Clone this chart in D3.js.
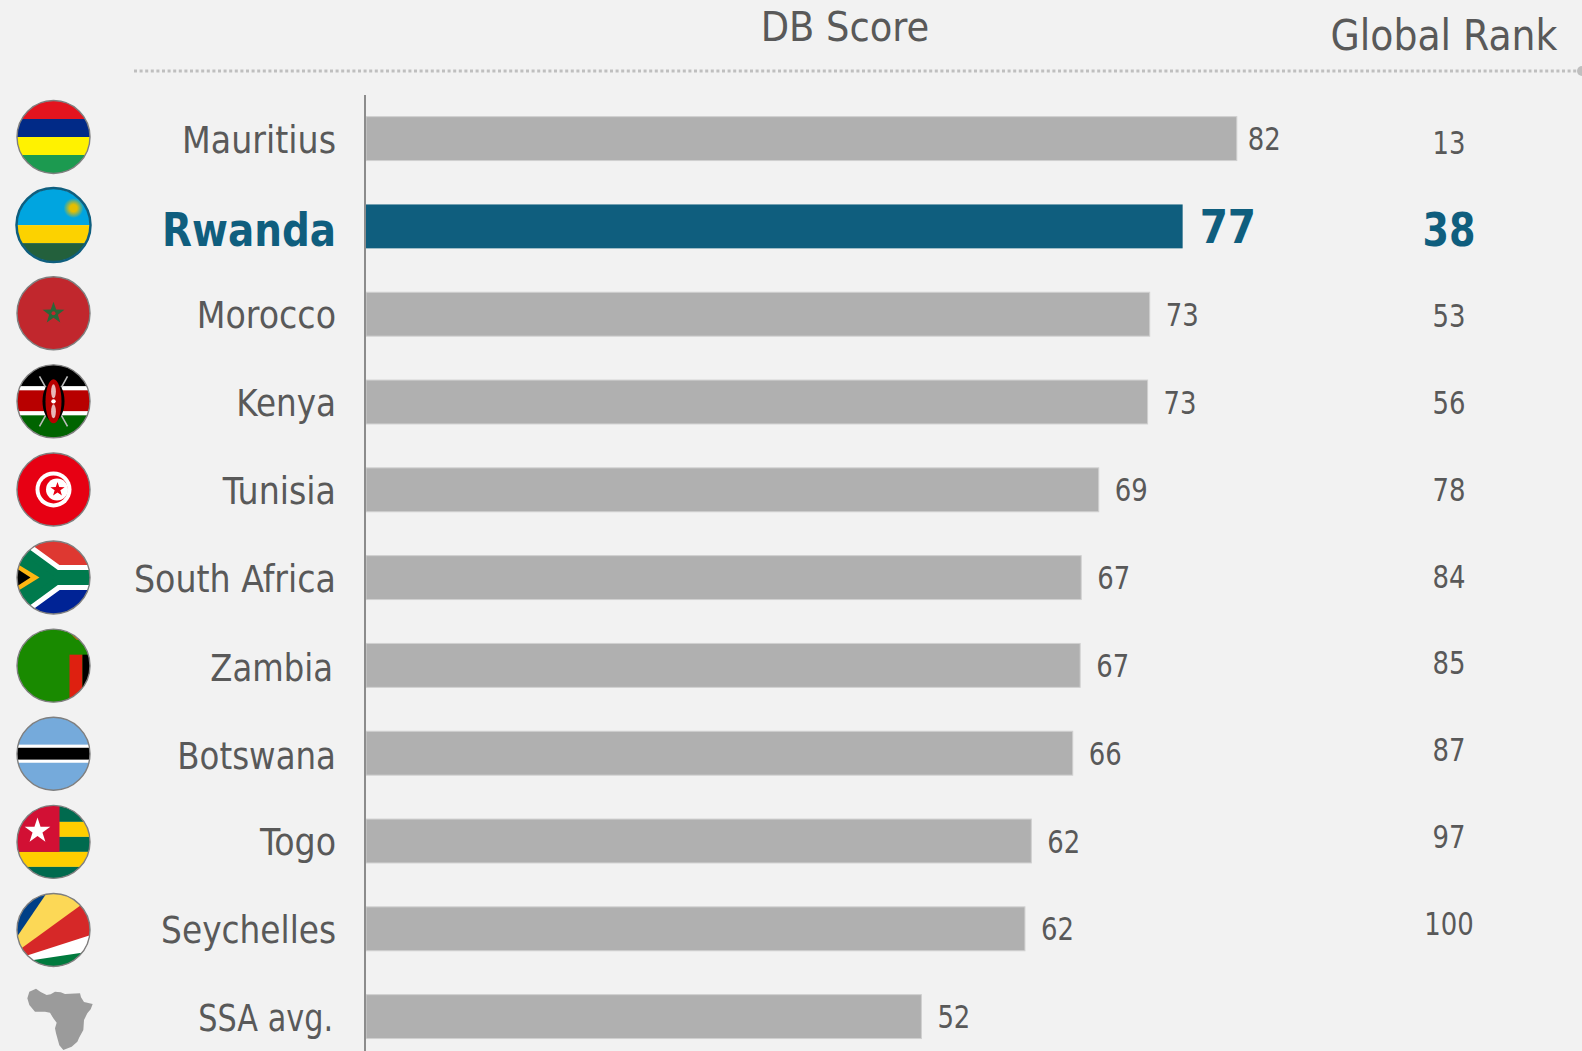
<!DOCTYPE html>
<html>
<head>
<meta charset="utf-8">
<script src="https://cdn.jsdelivr.net/npm/d3@7"></script>
<style>
    html, body { margin: 0; padding: 0; background: #f2f2f2; overflow: hidden; }
    text { font-family: "DejaVu Sans Condensed", "DejaVu Sans", sans-serif; fill: #595959; }
    .highlight { fill: #0f5e7e; font-weight: bold; }
</style>
</head>
<body>
<div id="chart"></div>
<script>
// Data
var countries = ["Mauritius", "Rwanda", "Morocco", "Kenya", "Tunisia", "South Africa", "Zambia", "Botswana", "Togo", "Seychelles", "SSA avg."];
var barValues = [82.0, 76.9, 73.8, 73.6, 69.0, 67.35, 67.25, 66.55, 62.65, 62.05, 52.3];
var scoreLabels = ["82", "77", "73", "73", "69", "67", "67", "66", "62", "62", "52"];
var globalRanks = ["13", "38", "53", "56", "78", "84", "85", "87", "97", "100"];
var headers = ["DB Score", "Global Rank"];
var highlighted = "Rwanda";

var width = 1582, height = 1051;

var svg = d3.select("#chart").append("svg")
    .attr("width", width)
    .attr("height", height)
    .style("display", "block");

var defs = svg.append("defs");

// Scales
var x = d3.scaleLinear().domain([0, 82]).range([366, 1236.8]);
var y = d3.scaleBand().domain(countries).range([94.7, 1060.5]).paddingInner(0.5).paddingOuter(0.25);
// the rank column and the flags drift a little from the bars in the original
var yRank = d3.scalePoint().domain(globalRanks).range([142.5, 923]);
var yFlag = d3.scalePoint().domain(countries.slice(0, 10)).range([137, 930]);

// squeeze a label sideways, the original font is narrower than DejaVu
function condense(sel, k) {
    sel.each(function() {
        d3.select(this)
            .attr("textLength", this.getComputedTextLength() * k)
            .attr("lengthAdjust", "spacingAndGlyphs");
    });
}

// Header
svg.append("text").attr("x", 845).attr("y", 41).attr("text-anchor", "middle")
    .style("font-size", "41px").text(headers[0]);
svg.append("text").attr("x", 1444).attr("y", 50).attr("text-anchor", "middle")
    .style("font-size", "42px").text(headers[1]);

svg.append("line")
    .attr("x1", 134).attr("x2", 1578).attr("y1", 71).attr("y2", 71)
    .attr("stroke", "#bfbfbf").attr("stroke-width", 3).attr("stroke-dasharray", "3,2.6");
svg.append("circle").attr("cx", 1582).attr("cy", 71).attr("r", 5).attr("fill", "#bfbfbf");

// Bars
svg.selectAll(".bar")
    .data(countries)
    .enter().append("rect")
    .attr("class", "bar")
    .attr("x", x(0))
    .attr("y", function(d) { return y(d); })
    .attr("width", function(d, i) { return x(barValues[i]) - x(0); })
    .attr("height", y.bandwidth())
    .attr("fill", function(d) { return d == highlighted ? "#0f5e7e" : "#b0b0b0"; })
    .attr("stroke", function(d) { return d == highlighted ? "none" : "#d0d0d0"; });

// Country axis
var yAxis = d3.axisLeft(y).tickSize(0).tickPadding(29);
var axisG = svg.append("g").attr("transform", "translate(" + 365 + ",0)").call(yAxis);
axisG.attr("font-family", null).attr("font-size", null);
axisG.select(".domain").attr("stroke", "#8c8c8c").attr("stroke-width", 2).attr("d", "M0,95V" + height);
axisG.selectAll(".tick text")
    .attr("class", function(d) { return d == highlighted ? "highlight" : null; })
    .attr("dy", function(d) { return d == highlighted ? "0.42em" : "0.38em"; })
    .style("font-size", function(d) { return d == highlighted ? "47px" : "37px"; });

// label widths differ a bit from DejaVu, narrowed one by one
var labelSqueeze = { "Rwanda": 0.92, "SSA avg.": 0.91, "Zambia": 0.97, "Botswana": 0.975, "Seychelles": 0.985, "Kenya": 0.98 };
axisG.selectAll(".tick text").each(function(d) {
    if (labelSqueeze[d]) d3.select(this).call(condense, labelSqueeze[d]);
});
// a few labels sit off the common line in the original
axisG.selectAll(".tick text").filter(function(d) { return d == "Zambia" || d == "SSA avg."; }).attr("x", -32);
axisG.selectAll(".tick text").filter(function(d) { return d == "Botswana" || d == "Zambia"; }).attr("y", 1.5);

// Score labels
svg.selectAll(".score")
    .data(countries)
    .enter().append("text")
    .attr("class", function(d) { return d == highlighted ? "score highlight" : "score"; })
    .attr("x", function(d, i) { return x(barValues[i]) + (d == highlighted ? 17 : (i == 0 ? 11 : 16)); })
    .attr("y", function(d) { return y(d) + y.bandwidth() / 2; })
    .attr("dy", "0.36em")
    .style("font-size", function(d) { return d == highlighted ? "47px" : "32px"; })
    .text(function(d, i) { return scoreLabels[i]; })
    .each(function(d) { d3.select(this).call(condense, d == highlighted ? 0.96 : 0.9); });

// Rank column
svg.selectAll(".rank")
    .data(globalRanks)
    .enter().append("text")
    .attr("class", function(d, i) { return countries[i] == highlighted ? "rank highlight" : "rank"; })
    .attr("x", 1449)
    .attr("y", function(d) { return yRank(d); })
    .attr("dy", "0.36em")
    .attr("text-anchor", "middle")
    .style("font-size", function(d, i) { return countries[i] == highlighted ? "47px" : "32px"; })
    .text(function(d) { return d; })
    .call(condense, 0.9);

// Flags, each one drawn around (0,0) with radius 36 and clipped to the circle
function stripes(g, list) {
    list.forEach(function(s) {
        g.append("rect").attr("x", -40).attr("width", 80)
            .attr("y", s[0]).attr("height", s[1] - s[0]).attr("fill", s[2]);
    });
}

function star(cx, cy, outer, inner) {
    var pts = d3.range(10).map(function(i) {
        var r = i % 2 ? inner : outer;
        var a = -Math.PI / 2 + i * Math.PI / 5;
        return [cx + r * Math.cos(a), cy + r * Math.sin(a)];
    });
    return "M" + pts.join("L") + "Z";
}

function poly(g, pts, color) {
    g.append("polygon").attr("points", pts).attr("fill", color);
}

var sunGlow = defs.append("radialGradient").attr("id", "sunGlow");
sunGlow.append("stop").attr("offset", "35%").attr("stop-color", "#e5be01");
sunGlow.append("stop").attr("offset", "100%").attr("stop-color", "#e5be01").attr("stop-opacity", 0);

var flags = {
    "Mauritius": function(g) {
        stripes(g, [[-40, -18, "#e3141e"], [-18, 0, "#012a87"], [0, 18, "#fff200"], [18, 40, "#1c9a50"]]);
    },
    "Rwanda": function(g) {
        stripes(g, [[-40, 0, "#00a5e0"], [0, 18, "#fcd200"], [18, 40, "#23603c"]]);
        g.append("circle").attr("cx", 20).attr("cy", -17).attr("r", 10).attr("fill", "url(#sunGlow)");
    },
    "Morocco": function(g) {
        stripes(g, [[-40, 40, "#c1272d"]]);
        g.append("path").attr("d", star(0, 0, 11.5, 4.6)).attr("fill", "#2a6638");
        g.append("circle").attr("r", 2).attr("fill", "#c1272d");
    },
    "Kenya": function(g) {
        stripes(g, [[-40, -15, "#000"], [-15, -11, "#fff"], [-11, 10, "#b80000"], [10, 14, "#fff"], [14, 40, "#006400"]]);
        g.append("path").attr("d", "M-14,-25L14,25M14,-25L-14,25").attr("stroke", "#bbb").attr("stroke-width", 1.6);
        g.append("ellipse").attr("rx", 11).attr("ry", 20).attr("fill", "#000");
        g.append("ellipse").attr("rx", 8).attr("ry", 22).attr("fill", "#b80000");
        g.append("ellipse").attr("cy", -10).attr("rx", 2.4).attr("ry", 7).attr("fill", "#e8b8b8");
        g.append("ellipse").attr("cy", 10).attr("rx", 2.4).attr("ry", 7).attr("fill", "#e8b8b8");
        g.append("circle").attr("r", 2.2).attr("fill", "#fff");
    },
    "Tunisia": function(g) {
        stripes(g, [[-40, 40, "#e70013"]]);
        g.append("circle").attr("r", 18).attr("fill", "#fff");
        g.append("circle").attr("r", 14).attr("fill", "#e70013");
        g.append("circle").attr("cx", 3.5).attr("r", 11).attr("fill", "#fff");
        g.append("path").attr("d", star(4, 0, 7.5, 3)).attr("fill", "#e70013");
    },
    "South Africa": function(g) {
        stripes(g, [[-40, 0, "#de3831"], [0, 40, "#002395"]]);
        var y_ = "M-42,-32L2,0L42,0M-42,32L2,0";
        g.append("path").attr("d", y_).attr("fill", "none").attr("stroke", "#fff").attr("stroke-width", 25);
        g.append("path").attr("d", y_).attr("fill", "none").attr("stroke", "#007a4d").attr("stroke-width", 15);
        poly(g, "-42,-32 2,0 -42,32", "#007a4d");
        poly(g, "-40,-16 -14,0 -40,16", "#ffb612");
        poly(g, "-40,-11 -23,0 -40,11", "#000");
    },
    "Zambia": function(g) {
        stripes(g, [[-40, 40, "#198a00"]]);
        g.append("rect").attr("x", 16).attr("y", -11).attr("width", 13).attr("height", 50).attr("fill", "#de2010");
        g.append("rect").attr("x", 29).attr("y", -11).attr("width", 11).attr("height", 50).attr("fill", "#000");
        poly(g, "18,-31 25,-28 29,-25 23,-26", "#b9680c");
    },
    "Botswana": function(g) {
        stripes(g, [[-40, -9, "#75aadb"], [-9, -6, "#fff"], [-6, 6, "#000"], [6, 9, "#fff"], [9, 40, "#75aadb"]]);
    },
    "Togo": function(g) {
        stripes(g, [[-40, -20, "#006a4e"], [-20, -5, "#ffce00"], [-5, 10, "#006a4e"], [10, 25, "#ffce00"], [25, 40, "#006a4e"]]);
        g.append("rect").attr("x", -40).attr("y", -40).attr("width", 46).attr("height", 50).attr("fill", "#d21034");
        g.append("path").attr("d", star(-16, -11, 13.5, 5.2)).attr("fill", "#fff");
    },
    "Seychelles": function(g) {
        stripes(g, [[-40, 40, "#003f87"]]);
        poly(g, "-2,-44 -40,12 -40,40 40,40 40,-44", "#fcd856");
        poly(g, "40,-34 -40,24 -40,40 40,40", "#d62828");
        poly(g, "40,4 -40,30 -40,40 40,40", "#fff");
        poly(g, "40,21 -40,33 -40,40 40,40", "#007a3d");
    }
};

var flagG = svg.selectAll(".flag")
    .data(countries.slice(0, 10))
    .enter().append("g")
    .attr("class", "flag")
    .attr("transform", function(d) { return "translate(53.5," + yFlag(d) + ")"; });

flagG.each(function(d, i) {
    var g = d3.select(this);
    defs.append("clipPath").attr("id", "clip" + i).append("circle").attr("r", 36.5);
    flags[d](g.append("g").attr("clip-path", "url(#clip" + i + ")"));
    g.append("circle")
        .attr("r", d == highlighted ? 37 : 36.5)
        .attr("fill", "none")
        .attr("stroke", d == highlighted ? "#0f5e7e" : "#7f7f7f")
        .attr("stroke-width", d == highlighted ? 2.5 : 1.4);
});

// Africa outline for the SSA average row
var africaOutline = [[108, 866], [122, 876], [140, 885], [152, 883], [165, 875], [182, 877], [195, 882], [240, 880], [243, 892], [252, 906], [278, 912], [272, 928], [262, 940], [252, 960], [250, 990], [238, 1012], [232, 1025], [215, 1040], [190, 1050], [178, 1036], [168, 1000], [165, 985], [170, 968], [160, 955], [150, 938], [135, 935], [105, 935], [88, 915], [82, 895], [88, 875]];
svg.append("path")
    .attr("transform", "translate(0,700) scale(" + 1 / 3 + ")")
    .attr("d", d3.line()(africaOutline) + "Z")
    .attr("fill", "#9b9b9b");
</script>
</body>
</html>
